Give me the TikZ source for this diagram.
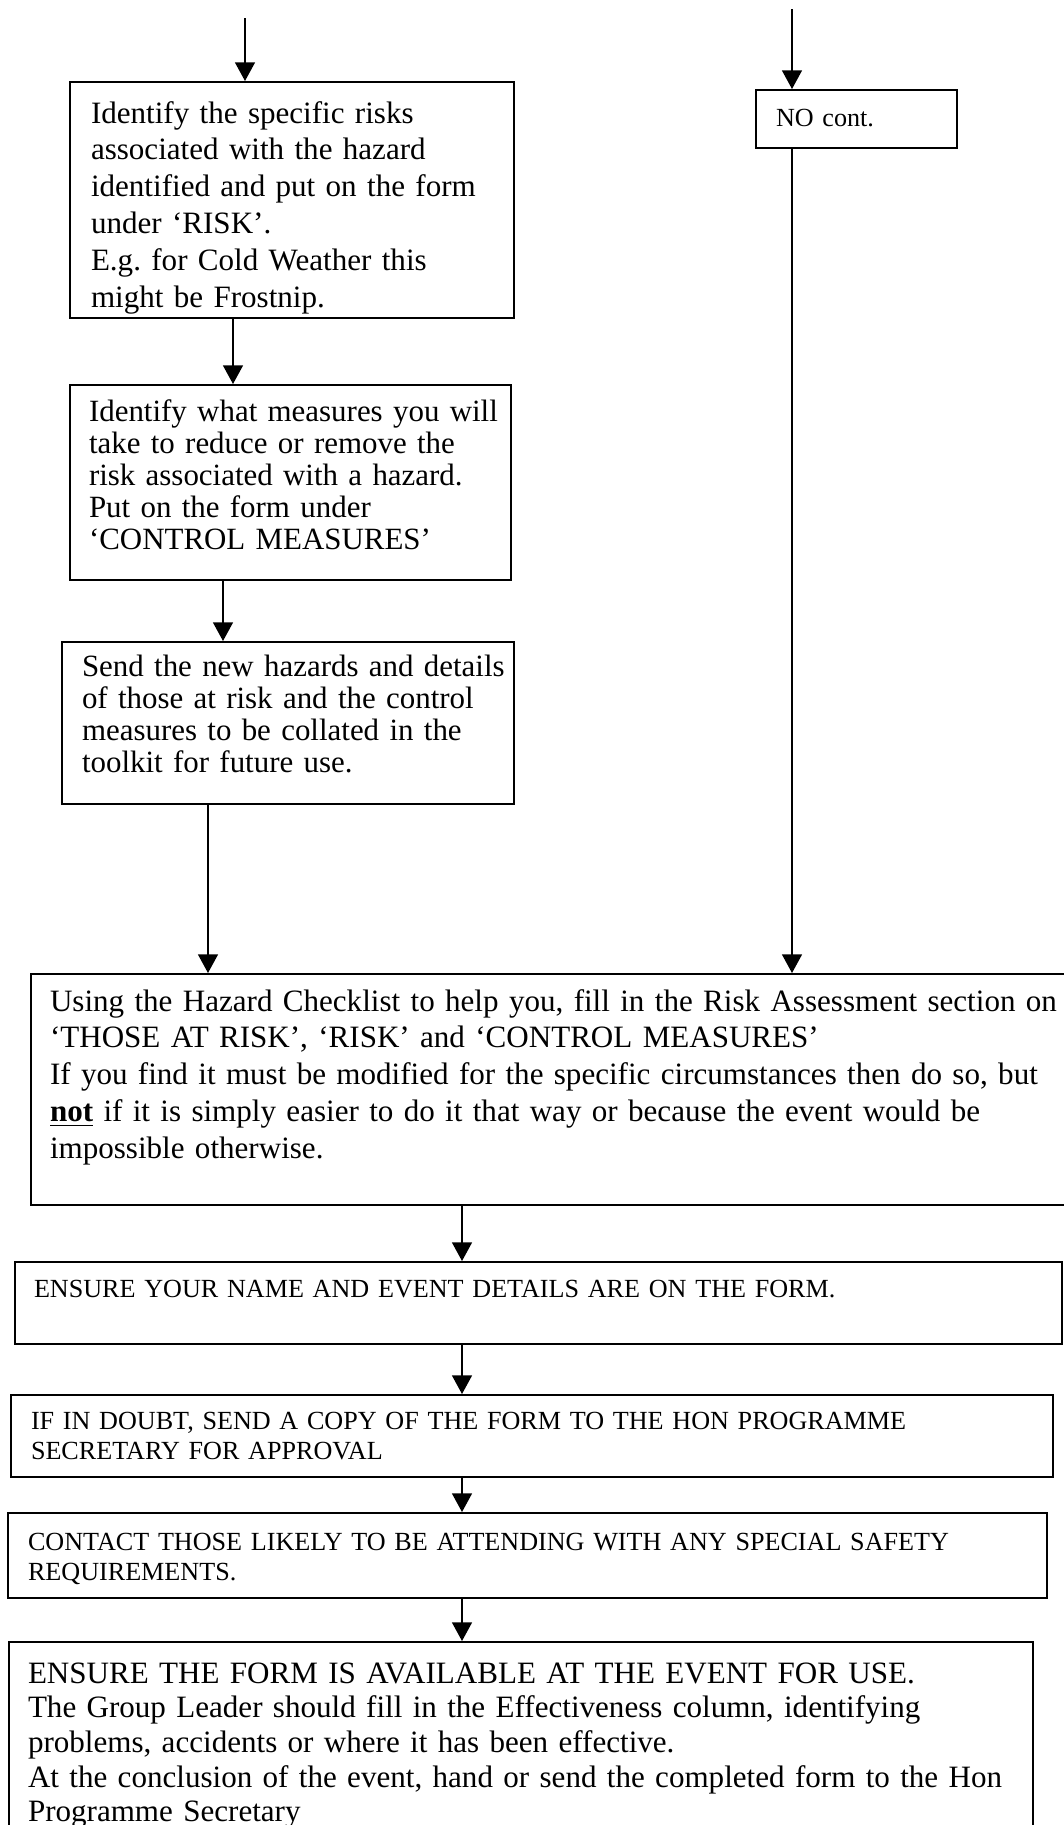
\documentclass[tikz,border=0pt]{standalone}
\usepackage{fontspec}
\setmainfont{Liberation Serif}
\usetikzlibrary{arrows.meta}
\hyphenpenalty=10000

\begin{document}
\begin{tikzpicture}[
    x=0.375pt, y=-0.375pt,
    box/.style={rectangle, draw, line width=0.75pt, anchor=north west, align=left, inner ysep=0pt, inner xsep=7.5pt},
    big/.style={font=\fontsize{11.65}{13.8}\selectfont},
    tight/.style={font=\fontsize{11.6}{12}\selectfont},
    small/.style={font=\fontsize{9.8}{11.3}\selectfont},
    link/.style={-{Triangle[length=7pt,width=7.5pt]}, line width=0.5pt}
]
    \useasboundingbox (0,0) rectangle (1064,1825);

    % upper column and right branch
    \node[box, big, inner xsep=7.875pt, text width=150.75pt, text height=15.375pt, text depth=73.125pt] (risk) at (69,81)
        {Identify the specific risks\\associated with the hazard\\identified and put on the form\\under `RISK'.\\E.g.\ for Cold Weather this\\might be Frostnip.};
    \node[box, tight, inner xsep=7.125pt, text width=151.125pt, text height=13.5pt, text depth=59.625pt] (measures) at (69,384)
        {\mbox{Identify what measures you will}\\take to reduce or remove the\\risk associated with a hazard.\\Put on the form under\\`CONTROL MEASURES'};
    \node[box, tight, text width=154.5pt, text height=12.75pt, text depth=48pt] (send) at (61,641)
        {\mbox{Send the new hazards and details}\\of those at risk and the control\\measures to be collated in the\\toolkit for future use.};
    \node[box, small, text width=60.375pt, text height=13.5pt, text depth=8.25pt] (nocont) at (755,89) {NO cont.};

    % lower column
    \node[box, big, inner xsep=7.125pt, text width=379.5pt, text height=13.875pt, text depth=72.75pt] (main) at (30,973)
        {Using the Hazard Checklist to help you, fill in the Risk Assessment section on\\`THOSE AT RISK', `RISK' and `CONTROL MEASURES'\\If you find it must be modified for the specific circumstances then do so, but\\\underline{\textbf{not}} if it is simply easier to do it that way or because the event would be\\impossible otherwise.};
    \node[box, small, inner xsep=7.125pt, text width=378.375pt, text height=13.125pt, text depth=17.625pt] (name) at (14,1261)
        {ENSURE YOUR NAME AND EVENT DETAILS ARE ON THE FORM.};
    \node[box, small, text width=375.75pt, text height=12.75pt, text depth=18pt] (doubt) at (10,1394)
        {IF IN DOUBT, SEND A COPY OF THE FORM TO THE HON PROGRAMME\\SECRETARY FOR APPROVAL};
    \node[box, small, text width=374.625pt, text height=13.875pt, text depth=18pt] (contact) at (7,1512)
        {CONTACT THOSE LIKELY TO BE ATTENDING WITH ANY SPECIAL SAFETY\\REQUIREMENTS.};
    \node[box, big, font=\fontsize{11.65}{13}\selectfont, inner xsep=7.125pt, text width=369.75pt, text height=15.375pt, text depth=81.4pt] (final) at (8,1641)
        {ENSURE THE FORM IS AVAILABLE AT THE EVENT FOR USE.\\The Group Leader should fill in the Effectiveness column, identifying\\problems, accidents or where it has been effective.\\At the conclusion of the event, hand or send the completed form to the Hon\\Programme Secretary};

    % arrow columns
    \coordinate (inA) at (245,18);
    \coordinate (inB) at (792,9);
    \coordinate (colB) at (233,0);
    \coordinate (colC) at (223,0);
    \coordinate (colD) at (208,0);
    \coordinate (colF) at (462,0);

    \draw[link] (inA) -- (inA |- risk.north);
    \draw[link] (inB) -- (inB |- nocont.north);
    \draw[link] (risk.south -| colB) -- (measures.north -| colB);
    \draw[link] (measures.south -| colC) -- (send.north -| colC);
    \draw[link] (send.south -| colD) -- (main.north -| colD);
    \draw[link] (nocont.south -| inB) -- (main.north -| inB);
    \foreach \a/\b in {main/name, name/doubt, doubt/contact, contact/final}
        \draw[link] (\a.south -| colF) -- (\b.north -| colF);
\end{tikzpicture}
\end{document}
